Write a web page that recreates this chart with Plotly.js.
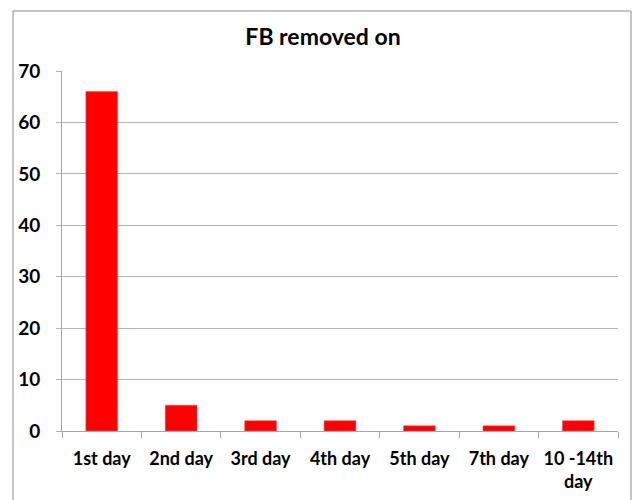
<!DOCTYPE html>
<html>
<head>
<meta charset="utf-8">
<script src="https://cdn.plot.ly/plotly-3.0.1.min.js"></script>
<style>html,body{margin:0;padding:0;background:#fff;}#chart{width:636px;height:500px;}</style>
</head>
<body>
<div id="chart"></div>
<script>
const categories = ["1st day", "2nd day", "3rd day", "4th day", "5th day", "7th day", "10 -14th<br>day"];
const values = [66, 5, 2, 2, 1, 1, 2];
const titleText = "FB removed on";

const font = {family: "Lato, 'Open Sans', sans-serif", color: "#000"};

const trace = {
  type: "bar",
  x: categories,
  y: values,
  width: 0.4,
  marker: {color: "#ff0000", line: {color: "#ff5050", width: 0.5}},
  hoverinfo: "x+y"
};

const L = 62, R = 618, T = 71, B = 431;
const pw = R - L, ph = B - T;

const layout = {
  width: 636, height: 500,
  margin: {l: L, r: 636 - R, t: T, b: 500 - B, pad: 0},
  paper_bgcolor: "#fff", plot_bgcolor: "#fff",
  showlegend: false,
  bargap: 0.6,
  title: {text: "<b>" + titleText + "</b>", font: Object.assign({}, font, {size: 23}),
          x: 323 / 636, xref: "container", xanchor: "center", y: 1 - 37 / 500, yref: "container", yanchor: "middle"},
  xaxis: {
    type: "category",
    showgrid: false,
    showline: true, linecolor: "#a6a6a6", linewidth: 1,
    ticks: "outside", ticklen: 6, tickcolor: "#a6a6a6", tickson: "boundaries",
    tickangle: 0,
    ticklabelstandoff: 11,
    tickfont: Object.assign({}, font, {size: 18, weight: "bold"}),
    zeroline: false,
    fixedrange: true
  },
  yaxis: {
    range: [0, 70], dtick: 10, tick0: 0,
    showgrid: true, gridcolor: "#b3b3b3", gridwidth: 1,
    showline: true, linecolor: "#a6a6a6", linewidth: 1,
    ticks: "outside", ticklen: 5, tickcolor: "#b3b3b3",
    ticklabelstandoff: 12,
    tickfont: Object.assign({}, font, {size: 19, weight: "bold"}),
    zeroline: true, zerolinecolor: "#a6a6a6",
    fixedrange: true
  },
  shapes: [{
    type: "rect", xref: "paper", yref: "paper",
    x0: (13 - L) / pw, x1: (631 - L) / pw,
    y0: (B - 506) / ph, y1: (B - 11) / ph,
    line: {color: "#8c8c8c", width: 1}, fillcolor: "rgba(0,0,0,0)", layer: "below"
  }]
};

Plotly.newPlot("chart", [trace], layout, {staticPlot: true, displayModeBar: false});
</script>
</body>
</html>
